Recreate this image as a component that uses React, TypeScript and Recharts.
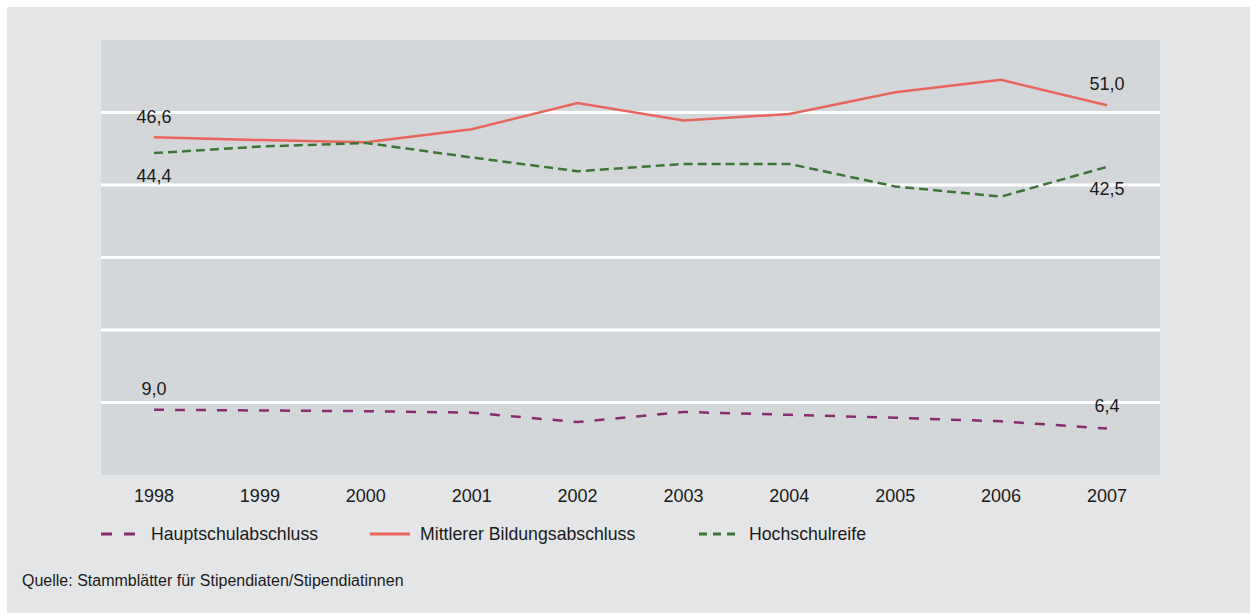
import { CartesianGrid, LabelList, Line, LineChart, ReferenceLine, XAxis, YAxis } from 'recharts';

const years = ['1998', '1999', '2000', '2001', '2002', '2003', '2004', '2005', '2006', '2007'];
const hauptschulabschluss = [9.0, 8.9, 8.8, 8.6, 7.3, 8.7, 8.3, 7.9, 7.4, 6.4];
const mittlererAbschluss = [46.6, 46.2, 45.9, 47.7, 51.3, 48.9, 49.8, 52.8, 54.5, 51.0];
const hochschulreife = [44.4, 45.3, 45.8, 43.8, 41.9, 42.9, 42.9, 39.8, 38.4, 42.5];
const yTicks = [10, 20, 30, 40, 50];

const data = years.map((year, i) => ({
  year,
  haupt: hauptschulabschluss[i],
  mittel: mittlererAbschluss[i],
  hoch: hochschulreife[i],
}));

const FONT = '"Liberation Sans", Arial, sans-serif';
const TEXT = '#1a1a1a';
const PURPLE = '#8a2b70';
const RED = '#e8655b';
const GREEN = '#3d7537';

const fmt = (v: number) => v.toFixed(1).replace('.', ',');

// only the first and last point of each series get a value label
function endLabels(firstDy: number, lastDy: number) {
  return (props: any) => {
    const { x, y, index, value } = props;
    if (index !== 0 && index !== years.length - 1) return null;
    const dy = index === 0 ? firstDy : lastDy;
    return (
      <text x={x} y={y + dy} dy="0.35em" textAnchor="middle" fontSize={18} fontFamily={FONT} fill={TEXT}>
        {fmt(Number(value))}
      </text>
    );
  };
}

const legendItems = [
  { label: 'Hauptschulabschluss', color: PURPLE, dash: '11 12', left: 94 },
  { label: 'Mittlerer Bildungsabschluss', color: RED, dash: undefined, left: 363 },
  { label: 'Hochschulreife', color: GREEN, dash: '8 6', left: 692 },
];

export default function App() {
  return (
    <div style={{ position: 'absolute', left: 7, top: 7, width: 1243, height: 606, background: '#e4e5e7', fontFamily: FONT }}>
      <LineChart width={1243} height={606} data={data} margin={{ top: 33, right: 90, left: 94, bottom: 98 }}>
        {/* plot background only; the white rules are drawn as reference lines */}
        <CartesianGrid horizontal={false} vertical={false} fill="#d4d7da" fillOpacity={1} />
        <XAxis
          dataKey="year"
          axisLine={false}
          tickLine={false}
          tickMargin={8}
          height={40}
          padding={{ left: 53, right: 53 }}
          tick={{ fontSize: 18, fill: TEXT, fontFamily: FONT }}
        />
        <YAxis hide domain={[0, 60]} ticks={yTicks} />
        {yTicks.map((t) => (
          <ReferenceLine key={t} y={t} stroke="#ffffff" strokeWidth={3} ifOverflow="visible" />
        ))}
        <Line type="linear" dataKey="haupt" stroke={PURPLE} strokeWidth={2.5} strokeDasharray="10 11" dot={false} isAnimationActive={false}>
          <LabelList dataKey="haupt" content={endLabels(-21, -23)} />
        </Line>
        <Line type="linear" dataKey="mittel" stroke={RED} strokeWidth={2.5} dot={false} isAnimationActive={false}>
          <LabelList dataKey="mittel" content={endLabels(-20, -22)} />
        </Line>
        <Line type="linear" dataKey="hoch" stroke={GREEN} strokeWidth={2.5} strokeDasharray="9 5" dot={false} isAnimationActive={false}>
          <LabelList dataKey="hoch" content={endLabels(23, 22)} />
        </Line>
      </LineChart>

      {legendItems.map((item) => (
        <div key={item.label} style={{ position: 'absolute', left: item.left, top: 515, height: 24, display: 'flex', alignItems: 'center' }}>
          <svg width={40} height={6} style={{ marginRight: 10 }}>
            <line x1={0} y1={3} x2={40} y2={3} stroke={item.color} strokeWidth={3} strokeDasharray={item.dash} />
          </svg>
          <span style={{ fontSize: 17.7, color: TEXT }}>{item.label}</span>
        </div>
      ))}

      <div style={{ position: 'absolute', left: 15, top: 565, fontSize: 16, color: TEXT }}>
        Quelle: Stammblätter für Stipendiaten/Stipendiatinnen
      </div>
    </div>
  );
}
